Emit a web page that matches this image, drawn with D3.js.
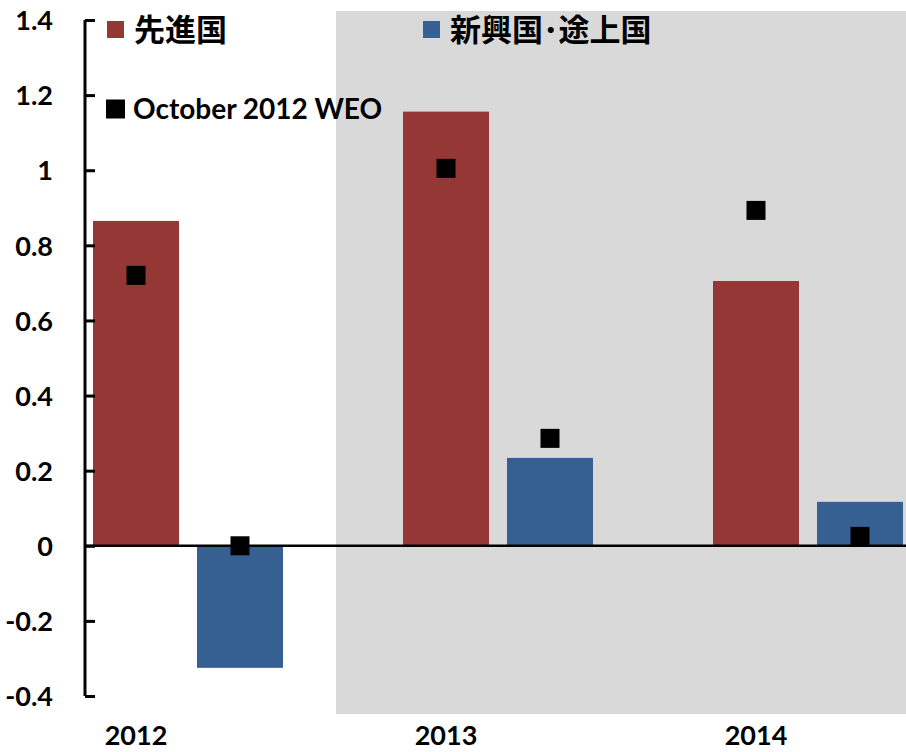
<!DOCTYPE html>
<html>
<head>
<meta charset="utf-8">
<script src="https://cdn.jsdelivr.net/npm/d3@7"></script>
<style>
    body { margin: 0; background: #fff; }
    svg { display: block; }
    text { font-family: Lato, "Noto Sans", sans-serif; font-weight: bold; fill: #000; }
    .jp { font-family: "Noto Sans CJK JP", sans-serif; }
</style>
</head>
<body>
<div id="chart"></div>
<script>
// data
var years = ["2012", "2013", "2014"];
var seriesNames = ["先進国", "新興国･途上国"];
var advanced = [0.865, 1.156, 0.705];
var emerging = [-0.325, 0.234, 0.117];
var weoAdvanced = [0.72, 1.005, 0.893];
var weoEmerging = [0.0, 0.286, 0.025];
var weoLabel = "October 2012 WEO";
var yTicks = [-0.4, -0.2, 0, 0.2, 0.4, 0.6, 0.8, 1, 1.2, 1.4];

var colors = ["#953735", "#376092"];

function chart() {
    var w = 906, h = 752;
    var left = 85;

    var svg = d3.select("#chart").append("svg")
        .attr("width", w)
        .attr("height", h);

    var y = d3.scaleLinear()
        .domain([-0.4, 1.4])
        .range([696, 20]);

    // each year gets 310px, the last group runs past the right edge
    var x0 = d3.scaleBand()
        .domain(years)
        .range([left, left + 310 * years.length]);

    var x1 = d3.scaleBand()
        .domain([0, 1])
        .range([8, 198])
        .paddingInner(0.173);

    // grey projection area
    svg.append("rect")
        .attr("x", x0("2013") - 59)
        .attr("y", 11)
        .attr("width", w - (x0("2013") - 59))
        .attr("height", 703)
        .attr("fill", "#d9d9d9");

    var rows = years.map(function (d, i) {
        return { year: d, vals: [advanced[i], emerging[i]], weo: [weoAdvanced[i], weoEmerging[i]] };
    });

    var groups = svg.selectAll("g.year")
        .data(rows)
        .enter()
        .append("g")
        .attr("class", "year")
        .attr("transform", function (d) { return "translate(" + x0(d.year) + ",0)"; });

    groups.selectAll("rect")
        .data(function (d) { return d.vals; })
        .enter()
        .append("rect")
        .attr("x", function (d, i) { return x1(i); })
        .attr("y", function (d) { return y(Math.max(0, d)); })
        .attr("width", x1.bandwidth())
        .attr("height", function (d) { return Math.abs(y(d) - y(0)); })
        .attr("fill", function (d, i) { return colors[i]; });

    // zero line
    svg.append("line")
        .attr("x1", left)
        .attr("x2", w)
        .attr("y1", y(0))
        .attr("y2", y(0))
        .attr("stroke", "#000")
        .attr("stroke-width", 2.5);

    // WEO markers
    var ms = 19;
    groups.selectAll("rect.weo")
        .data(function (d) { return d.weo; })
        .enter()
        .append("rect")
        .attr("class", "weo")
        .attr("x", function (d, i) { return x1(i) + x1.bandwidth() / 2 - ms / 2; })
        .attr("y", function (d) { return y(d) - ms / 2; })
        .attr("width", ms)
        .attr("height", ms)
        .attr("fill", "#000");

    // y axis
    var yAxis = d3.axisLeft(y)
        .tickValues(yTicks)
        .tickSize(-10)
        .tickFormat(function (d) { return String(+d.toFixed(1)); });

    var ax = svg.append("g")
        .attr("transform", "translate(" + left + ",0)")
        .call(yAxis);
    ax.select(".domain").attr("stroke-width", 3).attr("d", "M0," + y(1.4) + "V" + y(-0.4));
    ax.selectAll(".tick line").attr("stroke-width", 3);
    ax.selectAll(".tick text")
        .attr("font-size", "27px")
        .attr("font-family", "Lato, sans-serif")
        .attr("font-weight", "bold")
        .attr("dy", "0.36em")
        .attr("x", -32);

    // year labels
    svg.selectAll("text.yr")
        .data(years)
        .enter()
        .append("text")
        .attr("class", "yr")
        .attr("x", function (d) { return x0(d) + x1(0) + x1.bandwidth() / 2; })
        .attr("y", 735)
        .attr("dy", "0.36em")
        .attr("text-anchor", "middle")
        .attr("font-size", "27px")
        .text(function (d) { return d; });

    // legend
    var legend = [
        { x: 107, y: 29.5, size: 17, color: colors[0], label: seriesNames[0], cls: "jp", fs: 31 },
        { x: 423, y: 29.5, size: 17, color: colors[1], label: seriesNames[1], cls: "jp", fs: 31 },
        { x: 106, y: 109, size: 19, color: "#000", label: weoLabel, cls: "", fs: 28 }
    ];

    var lg = svg.selectAll("g.legend")
        .data(legend)
        .enter()
        .append("g")
        .attr("class", "legend");

    lg.append("rect")
        .attr("x", function (d) { return d.x; })
        .attr("y", function (d) { return d.y - d.size / 2; })
        .attr("width", function (d) { return d.size; })
        .attr("height", function (d) { return d.size; })
        .attr("fill", function (d) { return d.color; });

    lg.append("text")
        .attr("class", function (d) { return d.cls; })
        .attr("x", function (d) { return d.x + 27; })
        .attr("y", function (d) { return d.y; })
        .attr("dy", "0.36em")
        .attr("font-size", function (d) { return d.fs + "px"; })
        .text(function (d) { return d.label; });
}

window.onload = chart;
</script>
</body>
</html>
